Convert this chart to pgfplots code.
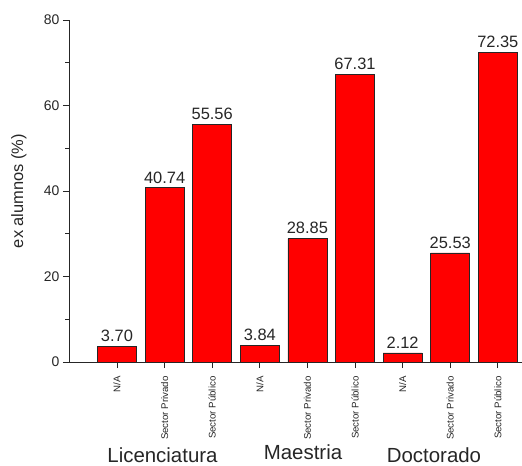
\documentclass[border=0pt]{standalone}
\usepackage{pgfplots}
\pgfplotsset{compat=1.18}
\usepackage{fontspec}
\setmainfont{Liberation Sans}

\begin{document}
\begin{tikzpicture}
\useasboundingbox (-69bp,-104bp) rectangle (453bp,362bp);
\begin{axis}[
  at={(0,0)}, anchor=south west,
  scale only axis, width=453bp, height=342bp,
  xmin=-1.008, xmax=8.508, ymin=0, ymax=80,
  axis x line*=bottom, axis y line*=left,
  axis line style={black!85, line width=0.9pt},
  tick align=outside, major tick length=6bp, minor tick length=3.5bp,
  every tick/.style={black!85, line width=0.9pt},
  ytick={0,20,...,80}, minor ytick={10,30,50,70},
  xtick={0,...,8},
  xticklabels={N/A, Sector Privado, Sector Público, N/A, Sector Privado, Sector Público, N/A, Sector Privado, Sector Público},
  xticklabel shift=5bp,
  x tick label style={rotate=90, anchor=east, font=\fontsize{9.7}{10}\selectfont, text=black!85},
  y tick label style={font=\fontsize{14}{15}\selectfont, text=black!85},
  /pgf/number format/assume math mode=true,
  ylabel={ex alumnos (\%)},
  ylabel style={at={(axis description cs:-0.1104,0.5)}, anchor=center, font=\fontsize{16.5}{18}\selectfont, text=black!85},
  ybar, bar width=39bp,
  nodes near coords,
  every node near coord/.append style={font=\fontsize{16.5}{18}\selectfont, text=black!85, yshift=1bp},
  point meta=explicit symbolic,
]
\addplot[fill=red, draw=black!85, line width=0.7pt] coordinates {
 (0,3.70) [3.70]
 (1,40.74) [40.74]
 (2,55.56) [55.56]
 (3,3.84) [3.84]
 (4,28.85) [28.85]
 (5,67.31) [67.31]
 (6,2.12) [2.12]
 (7,25.53) [25.53]
 (8,72.35) [72.35]
};
\end{axis}
\node[anchor=base, font=\fontsize{20.5}{22}\selectfont, text=black!85] at (93.5bp,-100bp) {Licenciatura};
\node[anchor=base, font=\fontsize{20.5}{22}\selectfont, text=black!85] at (234bp,-97bp) {Maestria};
\node[anchor=base, font=\fontsize{20.5}{22}\selectfont, text=black!85] at (365bp,-100bp) {Doctorado};
\end{tikzpicture}
\end{document}
